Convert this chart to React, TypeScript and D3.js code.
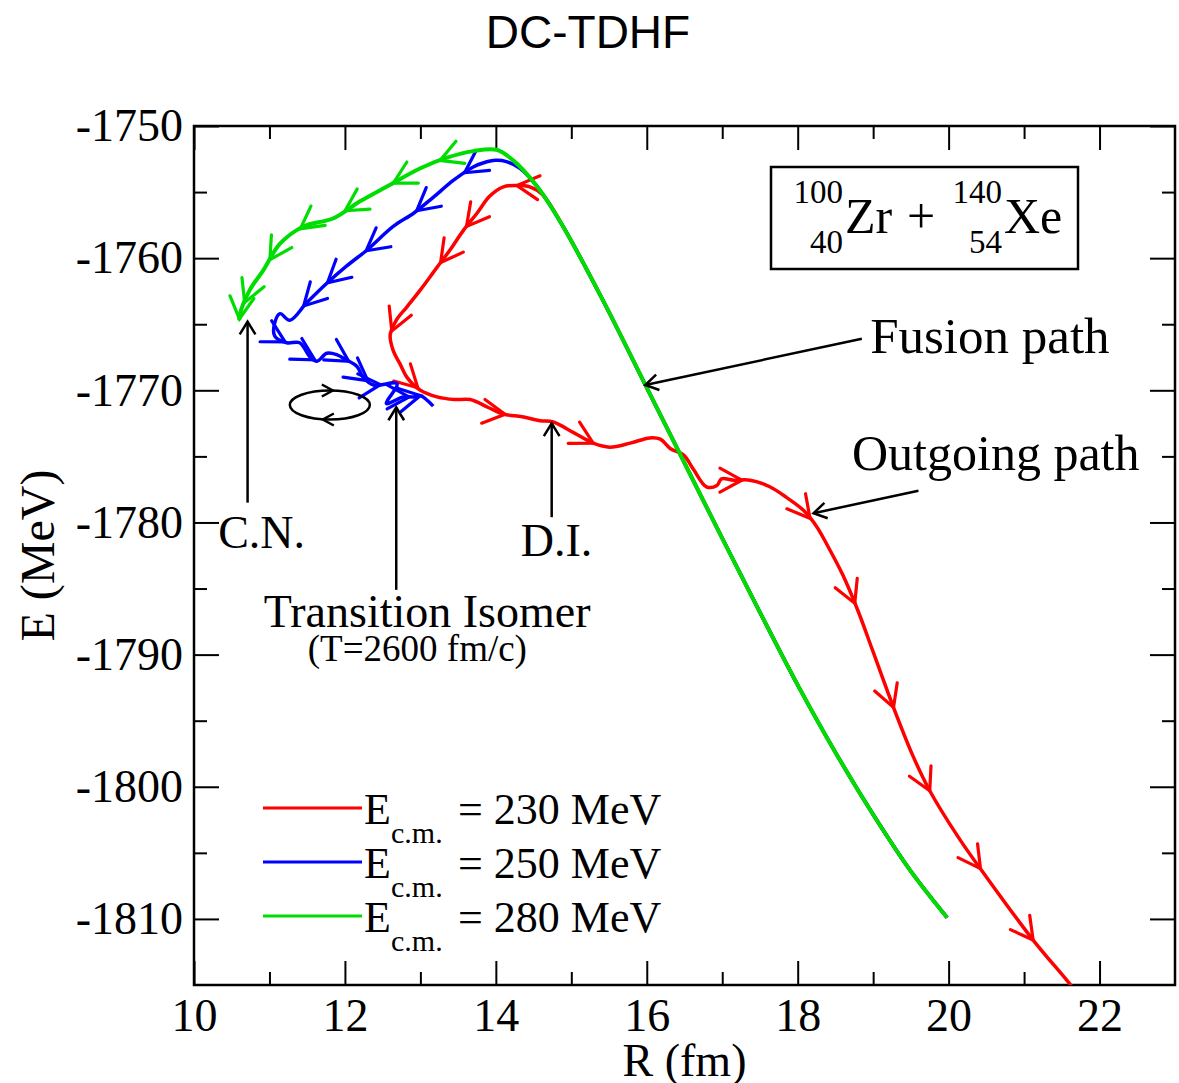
import React, { useEffect, useRef } from 'react'
import * as d3 from 'd3'

type Pt = [number, number]

// incoming branch along the fusion valley, read once, common to the three energies
const approach: Pt[] = [
	[19.98, -1809.9], [19.5, -1806.4], [19.0, -1802.1], [18.5, -1797.4], [18.0, -1792.3],
	[17.5, -1786.8], [17.0, -1781.2], [16.5, -1775.5], [16.0, -1769.8], [15.42, -1763.2],
	[14.89, -1757.6],
]

// E_cm = 230 MeV : deep inelastic, goes back out
const path230: Pt[] = [
	[14.62, -1755.2], [14.45, -1754.6], [14.28, -1754.5], [14.1, -1754.6], [13.92, -1755.3],
	[13.75, -1756.6], [13.57, -1757.9], [13.39, -1759.4], [13.22, -1760.7], [13.0, -1762.4],
	[12.82, -1763.7], [12.68, -1764.7], [12.6, -1765.8], [12.64, -1767.0], [12.73, -1768.0],
	[12.82, -1769.0], [13.0, -1770.0], [13.22, -1770.5], [13.45, -1770.7], [13.66, -1770.7],
	[13.9, -1771.3], [14.1, -1771.8], [14.35, -1772.0], [14.59, -1772.3], [14.76, -1772.4],
	[15.03, -1773.2], [15.29, -1774.0], [15.51, -1774.3], [15.78, -1774.0], [16.04, -1773.6],
	[16.18, -1773.7], [16.31, -1774.4], [16.49, -1774.9], [16.62, -1776.0], [16.79, -1777.3],
	[16.93, -1777.2], [16.99, -1776.7], [17.15, -1776.8], [17.37, -1776.8], [17.63, -1777.3],
	[17.85, -1778.1], [18.08, -1779.1], [18.25, -1780.3], [18.4, -1781.8], [18.6, -1784.0],
	[18.8, -1786.7], [19.0, -1789.8], [19.27, -1794.0], [19.53, -1797.7], [19.75, -1800.3],
	[20.15, -1804.0], [20.51, -1806.9], [21.12, -1811.6], [21.56, -1814.6], [21.7, -1815.6],
]

// E_cm = 250 MeV : ends in the transition isomer
const path250: Pt[] = [
	[14.55, -1754.6], [14.32, -1753.2], [14.14, -1752.7], [14.0, -1752.6], [13.83, -1752.8],
	[13.7, -1753.1], [13.44, -1754.1], [13.17, -1755.4], [12.91, -1756.6], [12.64, -1757.6],
	[12.29, -1759.4], [12.02, -1760.6], [11.76, -1761.9], [11.49, -1763.4], [11.27, -1764.7],
	[11.14, -1764.2], [11.07, -1764.9], [11.07, -1765.9], [11.23, -1766.4], [11.4, -1766.4],
	[11.54, -1767.5], [11.63, -1767.8], [11.76, -1767.2], [11.89, -1767.3], [12.02, -1767.7],
	[12.16, -1768.2], [12.24, -1769.0], [12.38, -1769.6], [12.69, -1769.5], [12.55, -1771.0],
	[12.77, -1770.5], [12.91, -1770.5], [13.0, -1770.4], [13.17, -1771.2],
]

// E_cm = 280 MeV : compound nucleus
const path280: Pt[] = [
	[14.55, -1754.6], [14.23, -1752.6], [14.01, -1751.8], [13.7, -1751.9], [13.35, -1752.4],
	[13.0, -1753.2], [12.55, -1754.6], [12.2, -1755.7], [11.84, -1757.0], [11.45, -1757.6],
	[11.14, -1758.9], [10.92, -1760.9], [10.74, -1762.4], [10.61, -1764.2], [10.6, -1764.7],
]

// where the direction chevrons sit on each trajectory
const arrows230: Pt[] = [
	[14.28, -1754.5], [13.61, -1757.6], [13.26, -1760.3], [12.62, -1765.5], [12.95, -1769.9],
	[14.12, -1771.9], [15.29, -1774.0], [17.26, -1776.8], [18.16, -1779.7], [18.76, -1786.1],
	[19.27, -1794.0], [19.75, -1800.3], [20.42, -1806.2], [21.12, -1811.6],
]
const arrows250: Pt[] = [
	[13.57, -1753.4], [12.95, -1756.4], [12.29, -1759.5], [11.76, -1761.8], [11.45, -1763.6],
	[11.2, -1766.4], [11.6, -1767.7], [12.05, -1767.8], [12.3, -1769.3], [12.47, -1769.6],
	[12.85, -1770.5], [13.0, -1770.4],
]
const arrows280: Pt[] = [
	[13.26, -1752.6], [12.64, -1754.3], [12.0, -1756.4], [11.4, -1757.7], [11.0, -1760.1],
	[10.65, -1763.3], [10.6, -1764.6],
]

const energies = ['230', '250', '280']
const colors = ['#ff0000', '#0000ff', '#00dd00']

const xTicks = [10, 12, 14, 16, 18, 20, 22]
const xMinor = [11, 13, 15, 17, 19, 21]
const yTicks = [-1810, -1800, -1790, -1780, -1770, -1760, -1750]
const yMinor = [-1805, -1795, -1785, -1775, -1765, -1755]

const serif = '"Liberation Serif", "Times New Roman", serif'

function App() {
	const ref = useRef<SVGSVGElement>(null)

	useEffect(() => {
		const svg = d3.select(ref.current)
		svg.selectAll('*').remove()

		const left = 194, right = 1175, top = 126, bottom = 985
		const x = d3.scaleLinear().domain([10, 23]).range([left, right])
		const y = d3.scaleLinear().domain([-1815, -1750]).range([bottom, top])

		svg.append('text')
			.attr('x', 588).attr('y', 48)
			.attr('text-anchor', 'middle')
			.attr('font-family', '"Liberation Sans", Arial, sans-serif')
			.attr('font-size', 46)
			.text('DC-TDHF')

		// ticks inward on all four sides
		const styleAxis = (g: any) => {
			g.select('.domain').remove()
			g.selectAll('line').attr('stroke', '#000').attr('stroke-width', 2)
			g.selectAll('text').attr('font-family', serif).attr('font-size', 46).attr('fill', '#000')
		}
		const fmt = (d: any) => String(d)
		svg.append('g').attr('transform', `translate(0,${bottom})`)
			.call(d3.axisBottom(x).tickValues(xTicks).tickSize(-24).tickSizeOuter(0).tickPadding(13).tickFormat(fmt))
			.call(styleAxis)
		svg.append('g').attr('transform', `translate(0,${bottom})`)
			.call(d3.axisBottom(x).tickValues(xMinor).tickSize(-13).tickSizeOuter(0).tickFormat(() => ''))
			.call(styleAxis)
		svg.append('g').attr('transform', `translate(0,${top})`)
			.call(d3.axisTop(x).tickValues(xTicks).tickSize(-24).tickSizeOuter(0).tickFormat(() => ''))
			.call(styleAxis)
		svg.append('g').attr('transform', `translate(0,${top})`)
			.call(d3.axisTop(x).tickValues(xMinor).tickSize(-13).tickSizeOuter(0).tickFormat(() => ''))
			.call(styleAxis)
		svg.append('g').attr('transform', `translate(${left},0)`)
			.call(d3.axisLeft(y).tickValues(yTicks).tickSize(-25).tickSizeOuter(0).tickPadding(11).tickFormat(fmt))
			.call(styleAxis)
		svg.append('g').attr('transform', `translate(${left},0)`)
			.call(d3.axisLeft(y).tickValues(yMinor).tickSize(-13).tickSizeOuter(0).tickFormat(() => ''))
			.call(styleAxis)
		svg.append('g').attr('transform', `translate(${right},0)`)
			.call(d3.axisRight(y).tickValues(yTicks).tickSize(-25).tickSizeOuter(0).tickFormat(() => ''))
			.call(styleAxis)
		svg.append('g').attr('transform', `translate(${right},0)`)
			.call(d3.axisRight(y).tickValues(yMinor).tickSize(-13).tickSizeOuter(0).tickFormat(() => ''))
			.call(styleAxis)

		svg.append('rect')
			.attr('x', left).attr('y', top)
			.attr('width', right - left).attr('height', bottom - top)
			.attr('fill', 'none').attr('stroke', '#000').attr('stroke-width', 2.5)

		svg.append('text')
			.attr('x', (left + right) / 2).attr('y', 1076)
			.attr('text-anchor', 'middle')
			.attr('font-family', serif).attr('font-size', 46)
			.text('R (fm)')
		svg.append('text')
			.attr('transform', `translate(54,${(top + bottom) / 2}) rotate(-90)`)
			.attr('text-anchor', 'middle')
			.attr('font-family', serif).attr('font-size', 48)
			.text('E (MeV)')

		// trajectories
		svg.append('clipPath').attr('id', 'plot-clip')
			.append('rect')
			.attr('x', left).attr('y', top)
			.attr('width', right - left).attr('height', bottom - top)

		const plot = svg.append('g').attr('clip-path', 'url(#plot-clip)')
		const line = d3.line<Pt>()
			.x(d => x(d[0]))
			.y(d => y(d[1]))
			.curve(d3.curveCatmullRom.alpha(0.5))

		const series = [
			[...approach, ...path230],
			[...approach, ...path250],
			[...approach, ...path280],
		]
		const arrowSets = [arrows230, arrows250, arrows280]

		// open chevron sitting on the trajectory, pointing the way it is travelled
		const chevron = (pts: Pt[], at: Pt, len: number, ang: number) => {
			const px = pts.map(d => [x(d[0]), y(d[1])])
			const p = [x(at[0]), y(at[1])]
			let best = Infinity, q = p, dir = [1, 0]
			for (let i = 0; i < px.length - 1; i++) {
				const a = px[i], b = px[i + 1]
				const vx = b[0] - a[0], vy = b[1] - a[1]
				const l2 = vx * vx + vy * vy
				if (l2 === 0) continue
				const t = Math.max(0, Math.min(1, ((p[0] - a[0]) * vx + (p[1] - a[1]) * vy) / l2))
				const c = [a[0] + t * vx, a[1] + t * vy]
				const dd = (c[0] - p[0]) ** 2 + (c[1] - p[1]) ** 2
				if (dd < best) {
					best = dd
					q = c
					const l = Math.sqrt(l2)
					dir = [vx / l, vy / l]
				}
			}
			const bx = -dir[0], by = -dir[1]
			const r1 = [bx * Math.cos(ang) - by * Math.sin(ang), bx * Math.sin(ang) + by * Math.cos(ang)]
			const r2 = [bx * Math.cos(-ang) - by * Math.sin(-ang), bx * Math.sin(-ang) + by * Math.cos(-ang)]
			return `M${q[0] + r1[0] * len},${q[1] + r1[1] * len}L${q[0]},${q[1]}L${q[0] + r2[0] * len},${q[1] + r2[1] * len}`
		}

		series.forEach((pts, i) => {
			plot.append('path')
				.attr('d', line(pts))
				.attr('fill', 'none')
				.attr('stroke', colors[i])
				.attr('stroke-width', i === 2 ? 4 : 3.5)
				.attr('stroke-linejoin', 'round')
			plot.selectAll(null)
				.data(arrowSets[i])
				.join('path')
				.attr('d', d => chevron(pts, d, 25, 0.5))
				.attr('fill', 'none')
				.attr('stroke', colors[i])
				.attr('stroke-width', 3.2)
				.attr('stroke-linecap', 'round')
		})

		// black annotation arrows
		const note = svg.append('g')
		const arrow = (from: Pt, to: Pt) => {
			const a = [x(from[0]), y(from[1])], b = [x(to[0]), y(to[1])]
			note.append('line')
				.attr('x1', a[0]).attr('y1', a[1]).attr('x2', b[0]).attr('y2', b[1])
				.attr('stroke', '#000').attr('stroke-width', 2.5)
			note.append('path')
				.attr('d', chevron([from, to], to, 15, 0.55))
				.attr('fill', 'none').attr('stroke', '#000').attr('stroke-width', 2.5)
		}
		arrow([18.85, -1766.1], [15.98, -1769.6])
		arrow([19.6, -1777.6], [18.21, -1779.3])
		arrow([10.71, -1778.5], [10.71, -1764.8])
		arrow([12.68, -1785.1], [12.68, -1771.3])
		arrow([14.74, -1779.6], [14.74, -1772.5])

		const label = (t: string, at: Pt, size: number, anchor = 'start') =>
			note.append('text')
				.attr('x', x(at[0])).attr('y', y(at[1]))
				.attr('text-anchor', anchor)
				.attr('font-family', serif).attr('font-size', size)
				.text(t)
		label('Fusion path', [18.96, -1767.18], 51)
		label('Outgoing path', [18.72, -1776.03], 50)
		label('C.N.', [10.32, -1781.93], 46)
		label('D.I.', [14.33, -1782.54], 46)
		label('Transition Isomer', [13.09, -1787.91], 46, 'middle')
		label('(T=2600 fm/c)', [12.96, -1790.5], 37, 'middle')

		// rotation sign next to the isomer
		const cx = x(11.8), cy = y(-1771.11), rx = 40, ry = 14.5
		note.append('ellipse')
			.attr('cx', cx).attr('cy', cy).attr('rx', rx).attr('ry', ry)
			.attr('fill', 'none').attr('stroke', '#000').attr('stroke-width', 2.5)
		const spin = (px: number, py: number, dx: number) => {
			note.append('path')
				.attr('d', `M${px - dx * 11},${py - 6}L${px},${py}L${px - dx * 11},${py + 6}`)
				.attr('fill', 'none').attr('stroke', '#000').attr('stroke-width', 2.5)
		}
		spin(cx + 3, cy - ry, 1)
		spin(cx - 7, cy + ry, -1)

		// reaction box
		const box = svg.append('g').attr('font-family', serif)
		box.append('rect')
			.attr('x', 771).attr('y', 167).attr('width', 307).attr('height', 102)
			.attr('fill', '#fff').attr('stroke', '#000').attr('stroke-width', 2.5)
		const nuc = (mass: string, charge: string, sym: string, xr: number) => {
			box.append('text').attr('x', xr).attr('y', 203).attr('text-anchor', 'end').attr('font-size', 33).text(mass)
			box.append('text').attr('x', xr).attr('y', 253).attr('text-anchor', 'end').attr('font-size', 33).text(charge)
			box.append('text').attr('x', xr + 2).attr('y', 233).attr('font-size', 50).text(sym)
		}
		nuc('100', '40', 'Zr', 843)
		box.append('text').attr('x', 921).attr('y', 233).attr('text-anchor', 'middle').attr('font-size', 50).text('+')
		nuc('140', '54', 'Xe', 1002)

		// legend
		const legend = svg.append('g').attr('font-family', serif)
		energies.forEach((e, i) => {
			const ly = 808 + i * 54
			legend.append('line')
				.attr('x1', 263).attr('x2', 362).attr('y1', ly).attr('y2', ly)
				.attr('stroke', colors[i]).attr('stroke-width', 3)
			legend.append('text').attr('x', 364).attr('y', ly + 16).attr('font-size', 44).text('E')
			legend.append('text').attr('x', 391).attr('y', ly + 35).attr('font-size', 30).text('c.m.')
			legend.append('text').attr('x', 458).attr('y', ly + 16).attr('font-size', 44).text(`= ${e} MeV`)
		})
	}, [])

	return (
		<svg
			ref={ref}
			width={1179}
			height={1083}
			style={{ position: 'absolute', left: 0, top: 0, display: 'block', background: '#fff' }}
		/>
	)
}

export default App
